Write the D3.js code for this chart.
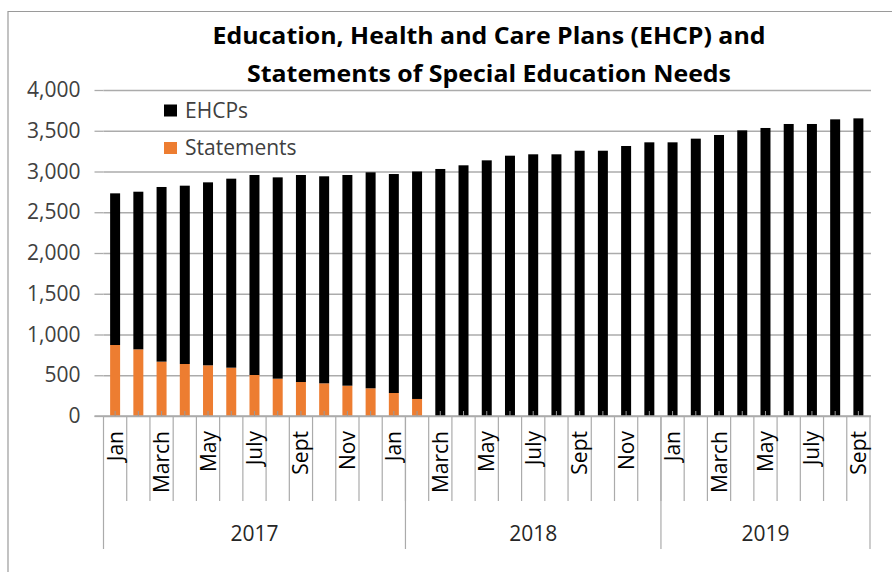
<!DOCTYPE html>
<html>
<head>
<meta charset="utf-8">
<script src="https://cdn.jsdelivr.net/npm/d3@7"></script>
<style>
  html, body { margin: 0; padding: 0; background: #fff; }
  svg { display: block; }
  text { font-variant-ligatures: none; }
</style>
</head>
<body>
<svg id="chart" width="892" height="572"></svg>
<script>
// Monthly counts, Jan 2017 – Sept 2019
const months = [
  "Jan","Feb","March","April","May","June","July","Aug","Sept","Oct","Nov","Dec",
  "Jan","Feb","March","April","May","June","July","Aug","Sept","Oct","Nov","Dec",
  "Jan","Feb","March","April","May","June","July","Aug","Sept"
];
const statements = [
  871, 818, 667, 638, 622, 593, 503, 458, 417, 401, 372, 340,
  282, 209, 0, 0, 0, 0, 0, 0, 0, 0, 0, 0,
  0, 0, 0, 0, 0, 0, 0, 0, 0
];
const ehcps = [
  1861, 1934, 2143, 2188, 2245, 2319, 2454, 2470, 2540, 2540, 2585, 2650,
  2687, 2791, 3031, 3076, 3137, 3194, 3211, 3211, 3255, 3255, 3313, 3358,
  3358, 3403, 3448, 3505, 3534, 3583, 3583, 3640, 3652
];
// Year groups on the outer axis level (number of months in each group)
const years = ["2017", "2018", "2019"];
const yearSpans = [13, 11, 9];
const yTicks = [0, 500, 1000, 1500, 2000, 2500, 3000, 3500, 4000];
const seriesNames = ["EHCPs", "Statements"];
const seriesColors = ["#000000", "#ED7D31"];

const svg = d3.select("#chart");
const font = "'Open Sans', sans-serif";
const grid = "#ababab";

const x0 = 103.5, x1 = 870, yBase = 416, yTop = 90;
const idx = d3.range(months.length);
const x = d3.scaleBand().domain(idx).range([x0, x1]).paddingInner(0.57).paddingOuter(0.285);
const step = x.step();
const y = d3.scaleLinear().domain([0, 4000]).range([yBase, yTop]);

// chart frame
svg.append("line").attr("x1", 8).attr("x2", 8).attr("y1", 11).attr("y2", 572)
  .attr("stroke", "#9a9a9a").attr("stroke-width", 1.2);
svg.append("line").attr("x1", 8).attr("x2", 892).attr("y1", 11.5).attr("y2", 11.5)
  .attr("stroke", "#9a9a9a").attr("stroke-width", 1.2);

// title
const titleLines = [
  { text: "Education, Health and Care Plans (EHCP) and", y: 43.5, w: 553 },
  { text: "Statements of Special Education Needs", y: 81.5, w: 484 }
];
svg.selectAll(".title").data(titleLines).join("text")
  .attr("x", 489).attr("y", d => d.y)
  .attr("text-anchor", "middle")
  .attr("font-family", font).attr("font-weight", "bold")
  .attr("font-size", 23).attr("fill", "#000")
  .attr("textLength", d => d.w).attr("lengthAdjust", "spacingAndGlyphs")
  .text(d => d.text);

// y axis with gridlines
const yAxis = d3.axisLeft(y).tickValues(yTicks).tickSize(9).tickPadding(14)
  .tickFormat(d3.format(","));
const yg = svg.append("g").attr("transform", `translate(${x0},0)`).call(yAxis);
yg.select(".domain").remove();
yg.selectAll(".tick line").attr("stroke", grid).attr("stroke-width", 1.3);
yg.selectAll(".tick text").attr("font-family", font).attr("font-size", 21).attr("fill", "#404040");
yg.selectAll(".tick").append("line")
  .attr("x1", 0).attr("x2", x1 + 1 - x0).attr("stroke", grid).attr("stroke-width", 1.3);

// stacked bars
const rows = idx.map(i => ({ i, Statements: statements[i], EHCPs: ehcps[i] }));
const stack = d3.stack().keys(["Statements", "EHCPs"])(rows);
const color = d3.scaleOrdinal().domain(seriesNames).range(seriesColors);
svg.append("g").selectAll("g").data(stack).join("g")
  .attr("fill", d => color(d.key))
  .selectAll("rect").data(d => d).join("rect")
  .attr("x", d => x(d.data.i))
  .attr("width", x.bandwidth())
  .attr("y", d => y(d[1]))
  .attr("height", d => y(d[0]) - y(d[1]));

// category axis: baseline, inner tick marks at bar centres, separators
const xa = svg.append("g");
xa.append("line").attr("x1", x0 - 9).attr("x2", x1 + 1).attr("y1", yBase).attr("y2", yBase)
  .attr("stroke", grid).attr("stroke-width", 1.3);
xa.selectAll(".mtick").data(idx).join("line")
  .attr("x1", i => x(i) + x.bandwidth() / 2).attr("x2", i => x(i) + x.bandwidth() / 2)
  .attr("y1", yBase - 5).attr("y2", yBase).attr("stroke", "#9a9a9a").attr("stroke-width", 1);
xa.selectAll(".sep").data(d3.range(1, months.length)).join("line")
  .attr("x1", i => x0 + i * step).attr("x2", i => x0 + i * step)
  .attr("y1", yBase).attr("y2", 501).attr("stroke", grid).attr("stroke-width", 1.2);

// year dividers (including both ends)
const bounds = [0, ...Array.from(d3.cumsum(yearSpans))];
xa.selectAll(".ysep").data(bounds).join("line")
  .attr("x1", b => x0 + b * step).attr("x2", b => x0 + b * step)
  .attr("y1", yBase).attr("y2", 549).attr("stroke", grid).attr("stroke-width", 1.2);

// month labels, every second month
xa.selectAll(".mlab").data(idx.filter(i => i % 2 === 0)).join("text")
  .attr("transform", i => `translate(${x(i) + x.bandwidth() / 2 + 7.5},431) rotate(-90)`)
  .attr("text-anchor", "end")
  .attr("font-family", font).attr("font-size", 21).attr("fill", "#000")
  .text(i => months[i]);

// year labels
xa.selectAll(".ylab").data(years).join("text")
  .attr("x", (d, k) => x0 + (bounds[k] + bounds[k + 1]) / 2 * step)
  .attr("y", 541)
  .attr("text-anchor", "middle")
  .attr("font-family", font).attr("font-size", 21).attr("fill", "#262626")
  .text(d => d);

// legend
const lg = svg.append("g");
seriesNames.forEach((name, k) => {
  const yy = 116.5 + k * 37.5;
  lg.append("rect").attr("x", 164).attr("y", yy - 12).attr("width", 13).attr("height", 12)
    .attr("fill", color(name));
  lg.append("text").attr("x", 185).attr("y", yy + 1)
    .attr("font-family", font).attr("font-size", 21).attr("fill", "#404040").text(name);
});
</script>
</body>
</html>
